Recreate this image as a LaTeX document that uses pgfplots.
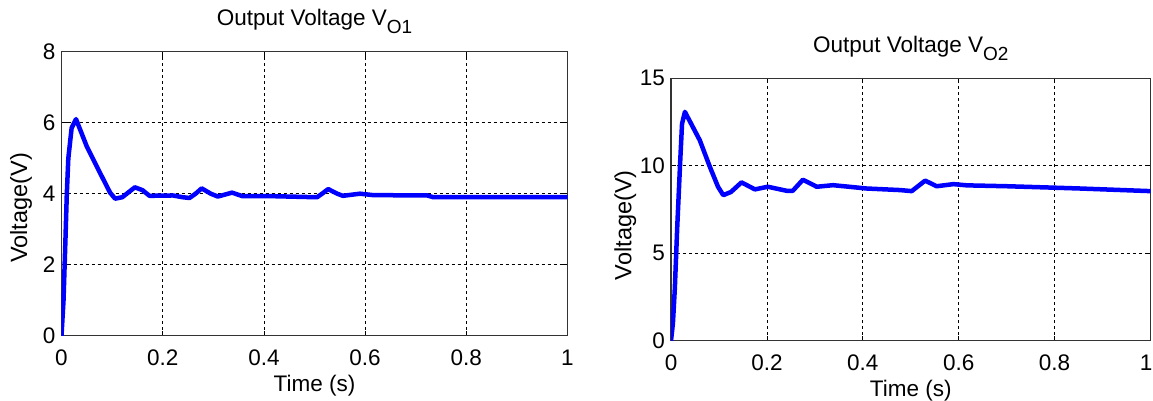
\documentclass[border=0pt]{standalone}
\usepackage{fontspec}
\setmainfont{Liberation Sans}
\usepackage{pgfplots}
\pgfplotsset{compat=1.18}

\pgfplotsset{
  vplot/.style={
    scale only axis, anchor=south west,
    xmin=0, xmax=1,
    xtick={0,0.2,0.4,0.6,0.8,1},
    grid=major,
    grid style={black, line width=0.8pt, dash pattern=on 3pt off 3pt},
    axis line style={line width=1.2pt, black!80},
    tick style={black, line width=0.8pt},
    major tick length=5pt, tick align=inside,
    xtick pos=both, ytick pos=both,
    /pgf/number format/assume math mode=true,
    xticklabel style={font=\fontsize{22.5}{22.5}\selectfont, inner sep=0pt, yshift=-14pt},
    yticklabel style={font=\fontsize{22.5}{22.5}\selectfont, inner sep=0pt, xshift=-6pt},
    xlabel={Time (s)}, ylabel={Voltage(V)},
    xlabel style={font=\fontsize{22.5}{22.5}\selectfont, at={(axis description cs:0.5,0)}, anchor=north, inner sep=0pt, yshift=-39pt},
    title style={font=\fontsize{22.5}{22.5}\selectfont, at={(axis description cs:0.5,1)}, anchor=base, inner sep=0pt, yshift=20pt},
    every axis plot/.style={blue, no markers, line width=4.5pt, line join=round, line cap=round},
  }
}

\begin{document}
\begin{tikzpicture}
\useasboundingbox (0,0) rectangle (1153pt,401pt);

% left: V_O1
\begin{axis}[vplot,
  at={(61.5pt,65.3pt)}, width=506pt, height=284pt,
  ymin=0, ymax=8, ytick={0,2,4,6,8},
  xticklabels={0,0.2,0.4,0.6,0.8,1},
  ylabel style={font=\fontsize{23.5}{23.5}\selectfont, at={(axis description cs:-0.058,0.45)}, anchor=south, inner sep=0pt},
  title={Output Voltage V\raisebox{-8pt}{\fontsize{19}{19}\selectfont O1}},
]
\addplot coordinates {
  (0,0) (0.004,1.0) (0.008,2.8) (0.0105,4.0) (0.0135,5.0) (0.02,5.85) (0.0287,6.1)
  (0.05,5.33) (0.076,4.59) (0.096,4.03) (0.106,3.86) (0.12,3.9) (0.145,4.18)
  (0.16,4.1) (0.174,3.94) (0.22,3.95) (0.24,3.9) (0.253,3.88) (0.265,4.0)
  (0.277,4.15) (0.295,4.0) (0.309,3.92) (0.337,4.03) (0.358,3.93) (0.418,3.93)
  (0.505,3.9) (0.515,4.0) (0.527,4.13) (0.545,4.0) (0.556,3.94) (0.59,4.0)
  (0.616,3.96) (0.723,3.95) (0.735,3.9) (1,3.9)
};
\end{axis}

% right: V_O2
\begin{axis}[vplot,
  at={(671pt,60.3pt)}, width=479.5pt, height=262.4pt,
  ymin=0, ymax=15, ytick={0,5,10,15},
  xticklabels={0,0.2,0.4,0.6,0.8,{\hspace*{-9pt}1}},
  ylabel style={font=\fontsize{23.5}{23.5}\selectfont, at={(axis description cs:-0.072,0.44)}, anchor=south, inner sep=0pt},
  title={Output Voltage V\raisebox{-8pt}{\fontsize{19}{19}\selectfont O2}},
]
\addplot coordinates {
  (0,0) (0.004,1.0) (0.008,3.0) (0.013,6.5) (0.019,10.15) (0.023,12.4) (0.029,13.08)
  (0.06,11.46) (0.081,9.94) (0.098,8.8) (0.109,8.32) (0.125,8.5) (0.147,9.05)
  (0.175,8.65) (0.202,8.8) (0.241,8.57) (0.254,8.57) (0.275,9.2) (0.304,8.8)
  (0.338,8.89) (0.408,8.7) (0.478,8.61) (0.502,8.55) (0.53,9.15) (0.554,8.83)
  (0.589,8.95) (0.617,8.88) (0.7,8.83) (0.784,8.76) (0.853,8.7) (1,8.55)
};
\end{axis}
\end{tikzpicture}
\end{document}
